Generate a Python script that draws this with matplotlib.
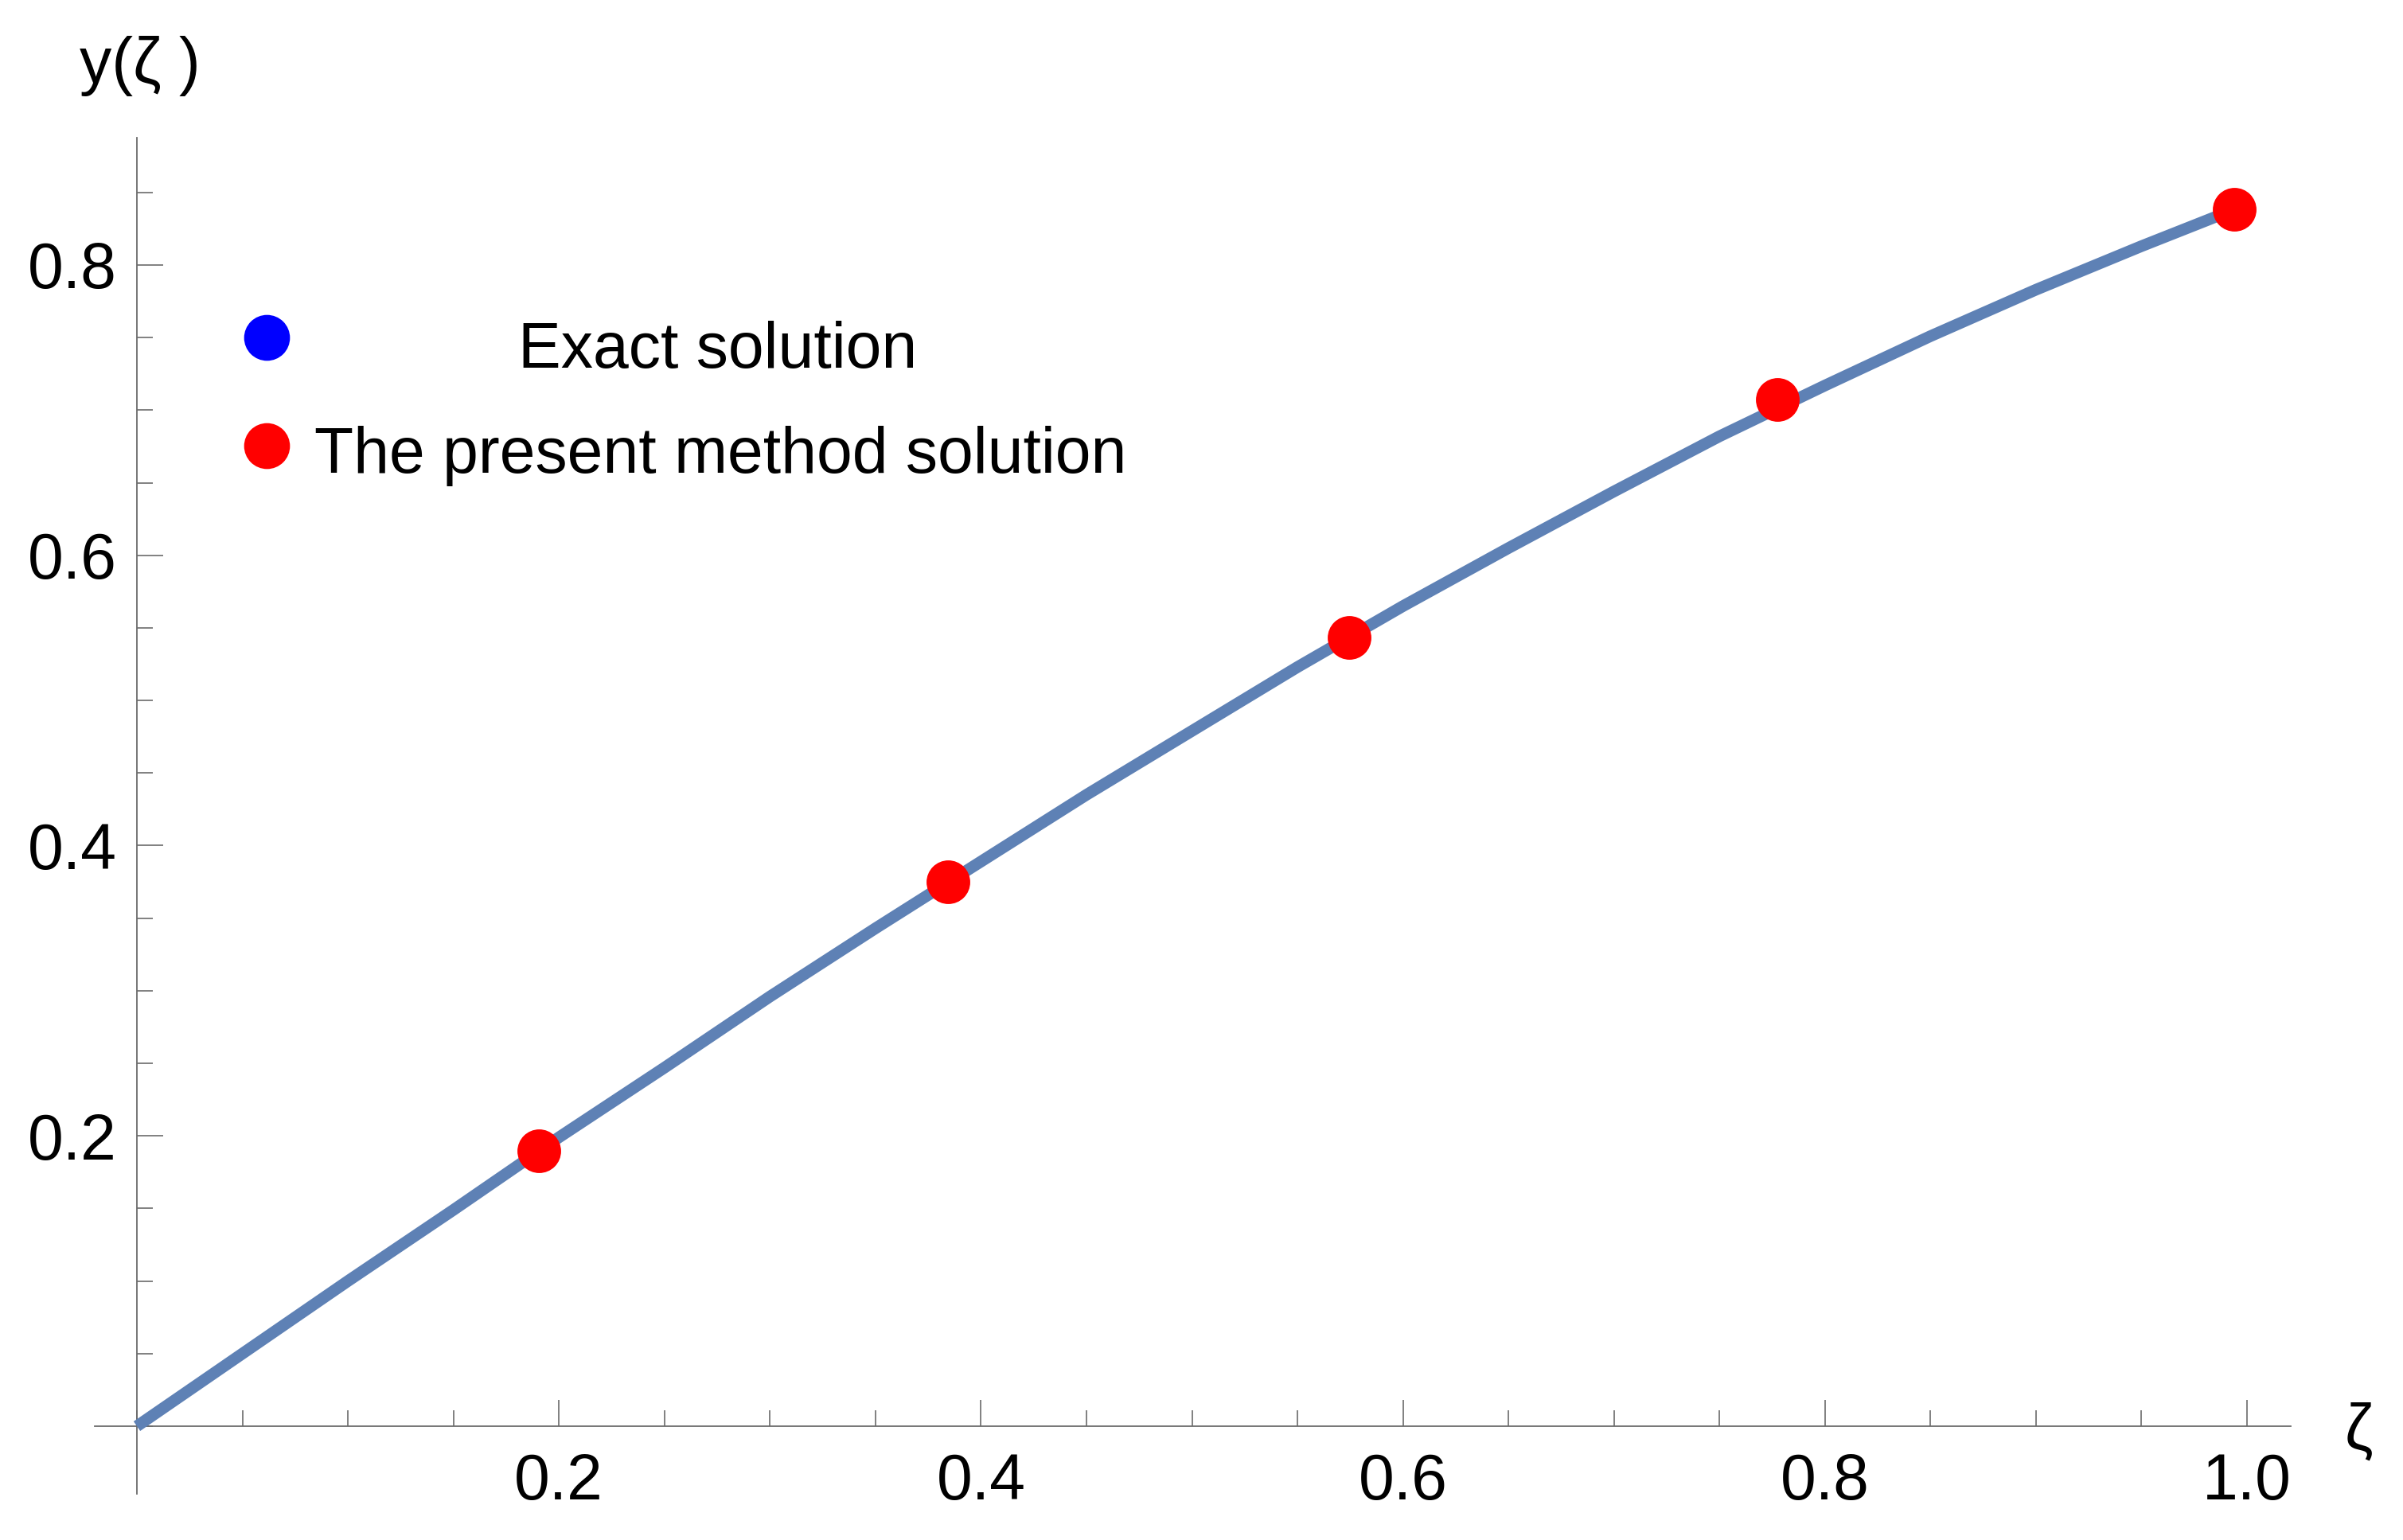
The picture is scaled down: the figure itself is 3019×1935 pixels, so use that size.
import matplotlib
matplotlib.use("Agg")
import matplotlib.pyplot as plt
from matplotlib.ticker import MultipleLocator, FixedLocator
from matplotlib import font_manager

plt.rcParams['font.family'] = ['Liberation Sans', 'DejaVu Sans']

# Exact solution curve
curve_x = [0.0, 0.05, 0.1, 0.15, 0.2, 0.25, 0.3, 0.35, 0.4, 0.45, 0.5,
           0.55, 0.6, 0.65, 0.7, 0.75, 0.8, 0.85, 0.9, 0.95, 0.99]
curve_y = [0.0, 0.050, 0.100, 0.149, 0.199, 0.247, 0.296, 0.343, 0.389, 0.435, 0.479,
           0.523, 0.565, 0.605, 0.644, 0.682, 0.717, 0.751, 0.783, 0.813, 0.836]

# Present method points
pts_x = [0.1905, 0.3844, 0.5745, 0.7774, 0.9940]
pts_y = [0.1897, 0.3751, 0.5434, 0.7073, 0.8384]

x_ticks = [0.2, 0.4, 0.6, 0.8, 1.0]
x_ticklabels = ["0.2", "0.4", "0.6", "0.8", "1.0"]
y_ticks = [0.2, 0.4, 0.6, 0.8]
y_ticklabels = ["0.2", "0.4", "0.6", "0.8"]

legend_labels = ["Exact solution", "The present method solution"]
legend_colors = ["#0000FF", "#FF0000"]

W, H = 3019, 1935
fig = plt.figure(figsize=(W / 100, H / 100), dpi=100)

def fx(px):
    return px / W

def fy(py):
    return 1 - py / H

ax = fig.add_axes([fx(119), fy(1877), (2878 - 119) / W, (1877 - 173) / H])
ax.set_xlim((119 - 172) / 2651, (2878 - 172) / 2651)
ax.set_ylim((1792 - 1877) / 1823.75, (1792 - 173) / 1823.75)

ax.plot(curve_x, curve_y, color="#5E81B5", lw=10.5, solid_capstyle='butt',
        solid_joinstyle='round', zorder=3)
ax.plot(pts_x, pts_y, 'o', color="#FF0000", ms=39.5, mec='none', zorder=4)

for s in ['top', 'right']:
    ax.spines[s].set_visible(False)
for s in ['left', 'bottom']:
    ax.spines[s].set_position(('data', 0))
    ax.spines[s].set_color('#6b6b6b')
    ax.spines[s].set_linewidth(1.3)

ax.xaxis.set_major_locator(FixedLocator(x_ticks))
ax.set_xticklabels(x_ticklabels)
ax.yaxis.set_major_locator(FixedLocator(y_ticks))
ax.set_yticklabels(y_ticklabels)
ax.xaxis.set_minor_locator(MultipleLocator(0.05))
ax.yaxis.set_minor_locator(MultipleLocator(0.05))
ax.tick_params(which='both', direction='in', color='#6b6b6b', width=1.2,
               labelsize=58, labelcolor='black')
ax.tick_params(which='major', length=24)
ax.tick_params(which='minor', length=14.5)
ax.tick_params(axis='x', pad=24)
ax.tick_params(axis='y', pad=18)

# x tick labels appear horizontally condensed in the reference
installed = {f.name for f in font_manager.fontManager.ttflist}
if 'Liberation Sans Narrow' in installed:
    for t in ax.get_xticklabels():
        t.set_family(['Liberation Sans Narrow', 'Liberation Sans'])

fig.text(fx(176), fy(104), "y(ζ )", fontsize=58, ha='center', va='baseline')
fig.text(fx(2963), fy(1820), "ζ", fontsize=58, ha='center', va='baseline')

# legend
leg_dot_y = [424, 560]
leg_base_y = [462, 594]
leg_tx = [651, 395]
for c, lab, dy, by, tx in zip(legend_colors, legend_labels, leg_dot_y, leg_base_y, leg_tx):
    fig.lines.append(plt.Line2D([fx(335)], [fy(dy)], marker='o', color=c, ms=41.5,
                                mec='none', transform=fig.transFigure))
    fig.text(fx(tx), fy(by), lab, fontsize=58, ha='left', va='baseline')

fig.savefig("out.png", dpi=100)
